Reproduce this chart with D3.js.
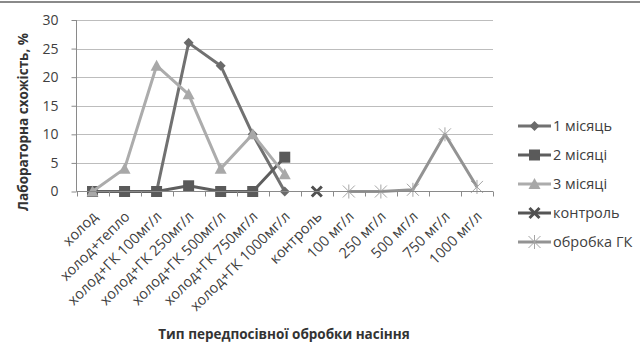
<!DOCTYPE html>
<html><head><meta charset="utf-8">
<script src="https://cdn.jsdelivr.net/npm/d3@7"></script>
<style>body{margin:0;background:#fff}svg{display:block}</style>
</head><body>
<script>
const categories = ["холод","холод+тепло","холод+ГК 100мг/л","холод+ГК 250мг/л","холод+ГК 500мг/л","холод+ГК 750мг/л","холод+ГК 1000мг/л","контроль","100 мг/л","250 мг/л","500 мг/л","750 мг/л","1000 мг/л"];
const month1 = [0,0,0,26,22,10,0,null,null,null,null,null,null];
const month2 = [0,0,0,1,0,0,6,null,null,null,null,null,null];
const month3 = [0,4,22,17,4,10,3,null,null,null,null,null,null];
const control = [null,null,null,null,null,null,null,0,null,null,null,null,null];
const gkTreatment = [null,null,null,null,null,null,null,null,0,0,0.3,10,0.8];
const yTicks = [0,5,10,15,20,25,30];
const seriesNames = ["1 місяць","2 місяці","3 місяці","контроль","обробка ГК"];

const W=640,H=345;
const svg=d3.select("body").append("svg").attr("width",W).attr("height",H);
const font="'Open Sans', 'Liberation Sans', sans-serif";
svg.append("line").attr("x1",0).attr("x2",W).attr("y1",2).attr("y2",2).attr("stroke","#8a8a8a").attr("stroke-width",2);

const x=d3.scaleBand().domain(categories).range([76.5,493]);
const y=d3.scaleLinear().domain([0,30]).range([191.5,20]);
const g=svg.append("g");

// gridlines
g.selectAll(".grid").data(yTicks.slice(1)).join("line")
 .attr("x1",76.5).attr("x2",493).attr("y1",d=>Math.round(y(d))+0.5).attr("y2",d=>Math.round(y(d))+0.5)
 .attr("stroke","#bdbdbd").attr("stroke-width",1);

// y axis
const yAxis=d3.axisLeft(y).tickValues(yTicks).tickSize(5).tickPadding(13);
const ya=svg.append("g").attr("transform","translate(76.5,0)").call(yAxis);
ya.select(".domain").attr("stroke","#8a8a8a").attr("d","M0,20V191.5");
ya.selectAll(".tick line").attr("stroke","#8a8a8a");
ya.selectAll(".tick text").attr("font-family",font).attr("font-size",14).attr("fill","#404040");

// x axis
const xa=svg.append("g").attr("transform","translate(0,191.5)");
xa.append("line").attr("x1",76.5).attr("x2",493).attr("stroke","#8a8a8a");
const edges=categories.map(c=>x(c)).concat([x(categories[categories.length-1])+x.bandwidth()]);
xa.selectAll(".tk").data(edges).join("line")
 .attr("x1",d=>Math.round(d)+0.5).attr("x2",d=>Math.round(d)+0.5).attr("y1",0).attr("y2",5).attr("stroke","#8a8a8a");
xa.selectAll(".lbl").data(categories).join("text")
 .attr("transform",d=>`translate(${x(d)+x.bandwidth()/2+6},${26}) rotate(-45)`)
 .attr("text-anchor","end").attr("font-family",font).attr("font-size",14.5).attr("fill","#404040")
 .text(d=>d);

// series
const defs=[
 {name:seriesNames[0],data:month1,color:"#717171",mcolor:"#6a6a6a",shape:"diamond"},
 {name:seriesNames[1],data:month2,color:"#5e5e5e",mcolor:"#5a5a5a",shape:"square"},
 {name:seriesNames[2],data:month3,color:"#acacac",mcolor:"#a8a8a8",shape:"triangle"},
 {name:seriesNames[3],data:control,color:"#555555",mcolor:"#505050",shape:"x"},
 {name:seriesNames[4],data:gkTreatment,color:"#939393",mcolor:"#a5a5a5",shape:"star"}
];
const cx=i=>x(categories[i])+x.bandwidth()/2;
function marker(sel,shape,color,px,py){
 if(shape==="diamond"){sel.append("path").attr("d",`M${px},${py-5}L${px+5},${py}L${px},${py+5}L${px-5},${py}Z`).attr("fill",color);}
 else if(shape==="square"){sel.append("rect").attr("x",px-5.5).attr("y",py-5.5).attr("width",11).attr("height",11).attr("fill",color);}
 else if(shape==="triangle"){sel.append("path").attr("d",`M${px},${py-6}L${px+6},${py+5}L${px-6},${py+5}Z`).attr("fill",color);}
 else if(shape==="x"){sel.append("path").attr("d",`M${px-5},${py-5}L${px+5},${py+5}M${px+5},${py-5}L${px-5},${py+5}`).attr("stroke",color).attr("stroke-width",3);}
 else if(shape==="star"){sel.append("path").attr("d",`M${px-6},${py-6}L${px+6},${py+6}M${px+6},${py-6}L${px-6},${py+6}M${px},${py-7}V${py+7}`).attr("stroke",color).attr("stroke-width",1);}
}
const line=d3.line().defined(d=>d.v!=null).x(d=>cx(d.i)).y(d=>y(d.v));
defs.forEach(s=>{
 const pts=s.data.map((v,i)=>({v,i}));
 g.append("path").datum(pts).attr("d",line).attr("fill","none").attr("stroke",s.color).attr("stroke-width",3).attr("stroke-linejoin","round");
 const mg=g.append("g");
 pts.filter(d=>d.v!=null).forEach(d=>marker(mg,s.shape,s.mcolor,cx(d.i),y(d.v)));
});

// legend
const lg=svg.append("g");
defs.forEach((s,k)=>{
 const ly=126+k*29;
 lg.append("line").attr("x1",518).attr("x2",551).attr("y1",ly).attr("y2",ly).attr("stroke",s.color).attr("stroke-width",3);
 marker(lg,s.shape,s.mcolor,534.5,ly);
 lg.append("text").attr("x",553).attr("y",ly+5).attr("font-family",font).attr("font-size",14.5).attr("fill","#404040").text(s.name);
});

// titles
svg.append("text").attr("transform","translate(28,122) rotate(-90)").attr("text-anchor","middle")
 .attr("font-family",font).attr("font-size",13.5).attr("font-weight","bold").attr("fill","#333").text("Лабораторна схожість, %");
svg.append("text").attr("x",284).attr("y",339).attr("text-anchor","middle")
 .attr("font-family",font).attr("font-size",13.5).attr("font-weight","bold").attr("fill","#333").text("Тип передпосівної обробки насіння");
</script>
</body></html>
